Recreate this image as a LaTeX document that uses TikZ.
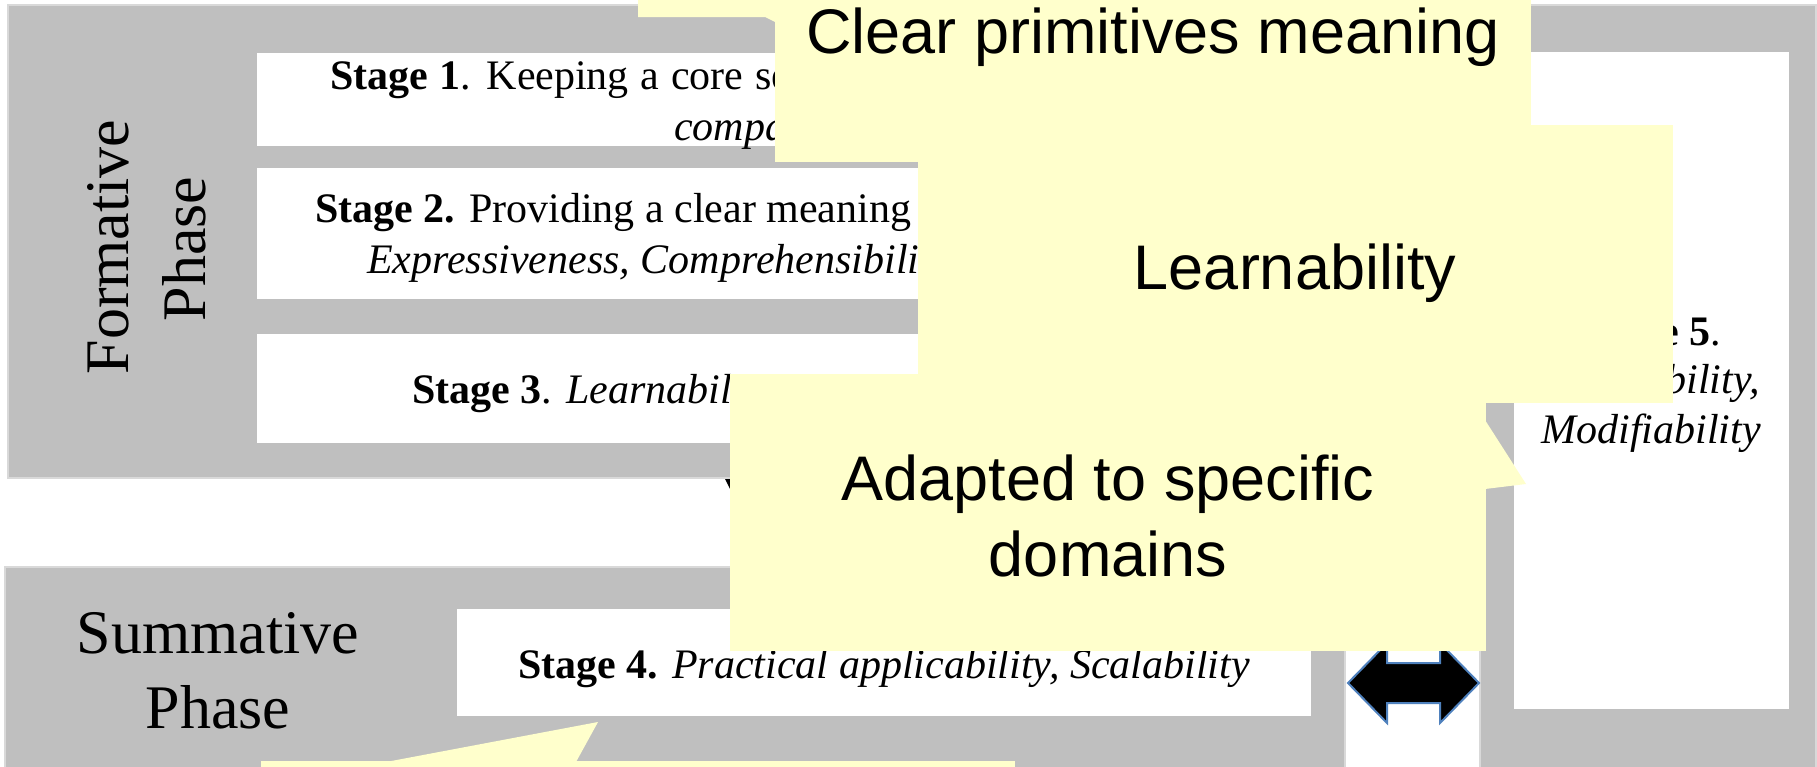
\documentclass[tikz,border=0pt]{standalone}
\usepackage{fontspec}
\setmainfont{Liberation Serif}
\newfontfamily\notefont{Liberation Sans}
\definecolor{phasegray}{HTML}{BFBFBF}
\definecolor{phaseedge}{HTML}{D9D9D9}
\definecolor{noteyellow}{HTML}{FFFFCC}
\definecolor{arrowedge}{HTML}{4F81BD}
\begin{document}
\begin{tikzpicture}[x=1pt,y=-1pt,
  box/.style={anchor=north west, inner sep=0pt, outer sep=0pt},
  phasebox/.style={box, fill=phasegray, draw=phaseedge, line width=2.5pt},
  stagebox/.style={box, fill=white},
  notebox/.style={box, fill=noteyellow},
  stagetext/.style={inner sep=0pt, anchor=base west, font=\fontsize{42}{50}\selectfont},
  stagecenter/.style={inner sep=0pt, anchor=base, font=\fontsize{42}{50}\selectfont},
  phasetext/.style={inner sep=0pt, anchor=base, font=\fontsize{62}{74}\selectfont},
  notetext/.style={inner sep=0pt, anchor=base, font=\notefont\fontsize{63}{76}\selectfont}
]
\useasboundingbox (0,0) rectangle (1817,766);
\fill[white] (0,0) rectangle (1817,766);

% right phase block (stage 5)
\node[phasebox, minimum width=336pt, minimum height=780pt] (rightphase) at (1480,5) {};
\node[stagebox, minimum width=275pt, minimum height=657pt] (stage5) at (1514,52) {};

% formative phase
\node[phasebox, minimum width=1337pt, minimum height=473pt] (formative) at (8,5) {};
\node[stagebox, minimum width=1054pt, minimum height=93pt] (stage1) at (257,53) {};
\node[stagebox, minimum width=1054pt, minimum height=131pt] (stage2) at (257,168) {};
\node[stagebox, minimum width=1054pt, minimum height=109pt] (stage3) at (257,334) {};

% summative phase
\node[phasebox, minimum width=1340pt, minimum height=220pt] (summative) at (5,567) {};
\node[stagebox, minimum width=854pt, minimum height=107pt] (stage4) at (457,609) {};

% double arrow
\filldraw[fill=black, draw=arrowedge, line width=2pt, line join=miter]
  (1348,683) -- (1387,643) -- (1387,663) -- (1440,663) -- (1440,643) -- (1479,683)
  -- (1440,723) -- (1440,703) -- (1387,703) -- (1387,723) -- cycle;

% small arrow tip mostly hidden
\fill[black] (725,479) -- (745,479) -- (745,519) -- cycle;

% phase labels
\node[phasetext, rotate=90] (formlbl1) at (128,247) {Formative};
\node[phasetext, rotate=90] (formlbl2) at (205,249) {Phase};
\node[phasetext] (sumlbl1) at (218,653) {Summative};
\node[phasetext] (sumlbl2) at (218,728) {Phase};

% stage texts
\node[stagetext] (s1a) at (330,89) {\spaceskip=0.28em\relax\textbf{Stage 1}. Keeping a core set of primitives,};
\node[stagetext] (s1b) at (674,140) {\textit{compactness}};
\node[stagetext] (s2a) at (315,222) {\textbf{Stage 2.} Providing a clear meaning to primitives:};
\node[stagetext] (s2b) at (367,273) {\textit{Expressiveness, Comprehensibility}};
\node[stagetext] (s3) at (412,403) {\textbf{Stage 3}. \textit{Learnability}};
\node[stagecenter] (s4) at (884,678) {\textbf{Stage 4.} \textit{Practical applicability, Scalability}};
\node[stagecenter] (s5a) at (1651,345) {\textbf{Stage 5}.};
\node[stagecenter] (s5b) at (1651,393) {\textit{Extensibility,}};
\node[stagecenter] (s5c) at (1651,443) {\textit{Modifiability}};

% callouts
\fill[noteyellow] (638,0) -- (775,0) -- (775,22) -- (765,17) -- (638,17) -- cycle;
\node[notebox, minimum width=756pt, minimum height=162pt] (clearnote) at (775,0) {};
\node[notebox, minimum width=755pt, minimum height=278pt] (learnnote) at (918,125) {};
\node[notebox, minimum width=756pt, minimum height=277pt] (adaptnote) at (730,374) {};
\fill[noteyellow] (1485,420) -- (1526,484) -- (1485,489) -- cycle;
\node[notebox, minimum width=754pt, minimum height=20pt] (bottomnote) at (261,761) {};
\fill[noteyellow] (386,762) -- (598,722) -- (576,762) -- cycle;

\node[notetext] (cleartxt) at (1153,53) {Clear primitives meaning};
\node[notetext] (learntxt) at (1295,289) {Learnability};
\node[notetext] (adapttxt1) at (1108,500) {Adapted to specific};
\node[notetext] (adapttxt2) at (1108,576) {domains};
\end{tikzpicture}
\end{document}
